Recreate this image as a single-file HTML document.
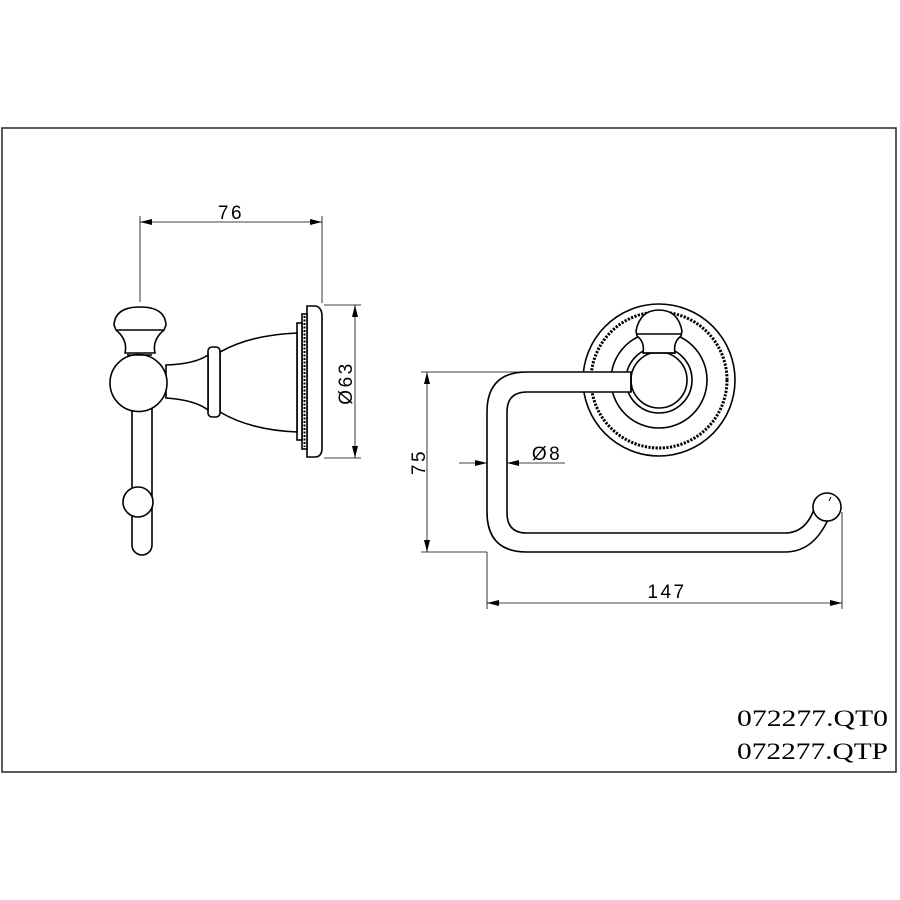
<!DOCTYPE html>
<html><head><style>html,body{margin:0;padding:0;background:#fff}svg{display:block}</style></head>
<body>
<svg width="900" height="900" viewBox="0 0 900 900" xmlns="http://www.w3.org/2000/svg">
<defs>
<marker id="a" markerWidth="12" markerHeight="6" refX="12" refY="3" orient="auto" markerUnits="userSpaceOnUse"><path d="M0,0 L12,3 L0,6 z" fill="#000"/></marker>
<marker id="b" markerWidth="12" markerHeight="6" refX="0" refY="3" orient="auto" markerUnits="userSpaceOnUse"><path d="M12,0 L0,3 L12,6 z" fill="#000"/></marker>
</defs>
<rect x="2" y="128" width="894" height="644" fill="none" stroke="#333" stroke-width="1.6"/>
<g stroke="#000" fill="none" stroke-width="1">
<line x1="140" y1="222" x2="322" y2="222" marker-start="url(#b)" marker-end="url(#a)" stroke-width="0.8"/>
<line x1="140" y1="216" x2="140" y2="302" stroke-width="0.8"/>
<line x1="322" y1="216" x2="322" y2="303" stroke-width="0.8"/>
<line x1="355" y1="305" x2="355" y2="458" marker-start="url(#b)" marker-end="url(#a)" stroke-width="0.8"/>
<line x1="324" y1="305" x2="361" y2="305" stroke-width="0.8"/>
<line x1="324" y1="458" x2="361" y2="458" stroke-width="0.8"/>
</g>
<g stroke="#000" fill="#fff" stroke-width="1.6">
<path d="M132,400 L132,545 A10,10 0 0 0 152,545 L152,400"/>
<circle cx="138" cy="502" r="15"/>
<path d="M307,306 L316,306 Q322,308 322,316 L322,448 Q322,456 316,457 L307,457 Z"/>
<rect x="302" y="314" width="5" height="135"/>
<rect x="297" y="323" width="5" height="117"/>
<path d="M220,352 Q250,335 297,333 L297,432 Q250,430 220,412 Z"/>
<rect x="208" y="347" width="12" height="70" rx="4"/>
<path d="M166,365 Q195,364 208,355 L208,410 Q195,400 166,398 Z"/>
<path d="M125,353 Q128,340 116,330 L114,325 Q115,307 140,307 Q165,307 166,325 L164,330 Q152,340 155,353 Z"/>
<line x1="116" y1="330" x2="164" y2="330"/>
<circle cx="138.5" cy="383" r="28.5"/>
<line x1="127" y1="355" x2="152" y2="355"/>
</g>
<g fill="none" stroke="#000" stroke-width="2" stroke-dasharray="2 1.5"><line x1="304.5" y1="316" x2="304.5" y2="447"/></g>
<g stroke="#000" fill="none" stroke-width="0.8">
<line x1="427" y1="372" x2="427" y2="552" marker-start="url(#b)" marker-end="url(#a)"/>
<line x1="421" y1="372" x2="530" y2="372"/>
<line x1="421" y1="552" x2="487" y2="552"/>
<line x1="459" y1="463" x2="487" y2="463" marker-end="url(#a)"/>
<line x1="565" y1="463" x2="507" y2="463" marker-end="url(#a)"/>
<line x1="487" y1="552" x2="487" y2="609"/>
<line x1="842" y1="512" x2="842" y2="609"/>
<line x1="487" y1="603" x2="842" y2="603" marker-start="url(#b)" marker-end="url(#a)"/>
</g>
<g stroke="#000" fill="#fff" stroke-width="1.6">
<circle cx="659" cy="380" r="76"/>
<circle cx="659" cy="380" r="68" stroke-width="3" stroke-dasharray="2.2 1.4" fill="none"/>
<circle cx="659" cy="380" r="48"/>
<circle cx="659" cy="380" r="33"/>
<circle cx="659" cy="380" r="28"/>
<path d="M631,372 L527,372 Q487,372 487,412 L487,512 Q487,552 527,552 L785,552 Q815,552 830,515 L816,503 Q808,533 785,533 L527,533 Q507,533 507,513 L507,412 Q507,392 527,392 L631,392 Z"/>
<circle cx="827" cy="507" r="14"/>
<path d="M643,353 Q645,342 637,336 L636,331 Q640,310 659,310 Q678,310 682,331 L681,336 Q673,342 675,353 Z"/>
<line x1="637" y1="334" x2="681" y2="334"/>
<line x1="643" y1="353" x2="675" y2="353"/>
<line x1="631" y1="372" x2="631" y2="392"/>
</g>
<line x1="829" y1="501" x2="831" y2="497" stroke="#000" stroke-width="1"/>
<g font-family="'Liberation Sans', sans-serif" font-size="19" fill="#000" letter-spacing="2.5">
<text x="231" y="219" text-anchor="middle">76</text>
<text x="667" y="598" text-anchor="middle">147</text>
<text x="547" y="460" text-anchor="middle">Ø8</text>
<text transform="translate(352,383) rotate(-90)" text-anchor="middle">Ø63</text>
<text transform="translate(425,462) rotate(-90)" text-anchor="middle">75</text>
</g>
<g font-family="'Liberation Serif', serif" font-size="23" fill="#000">
<text x="737" y="726" textLength="151" lengthAdjust="spacingAndGlyphs">072277.QT0</text>
<text x="737" y="759" textLength="151" lengthAdjust="spacingAndGlyphs">072277.QTP</text>
</g>
</svg>
</body></html>
